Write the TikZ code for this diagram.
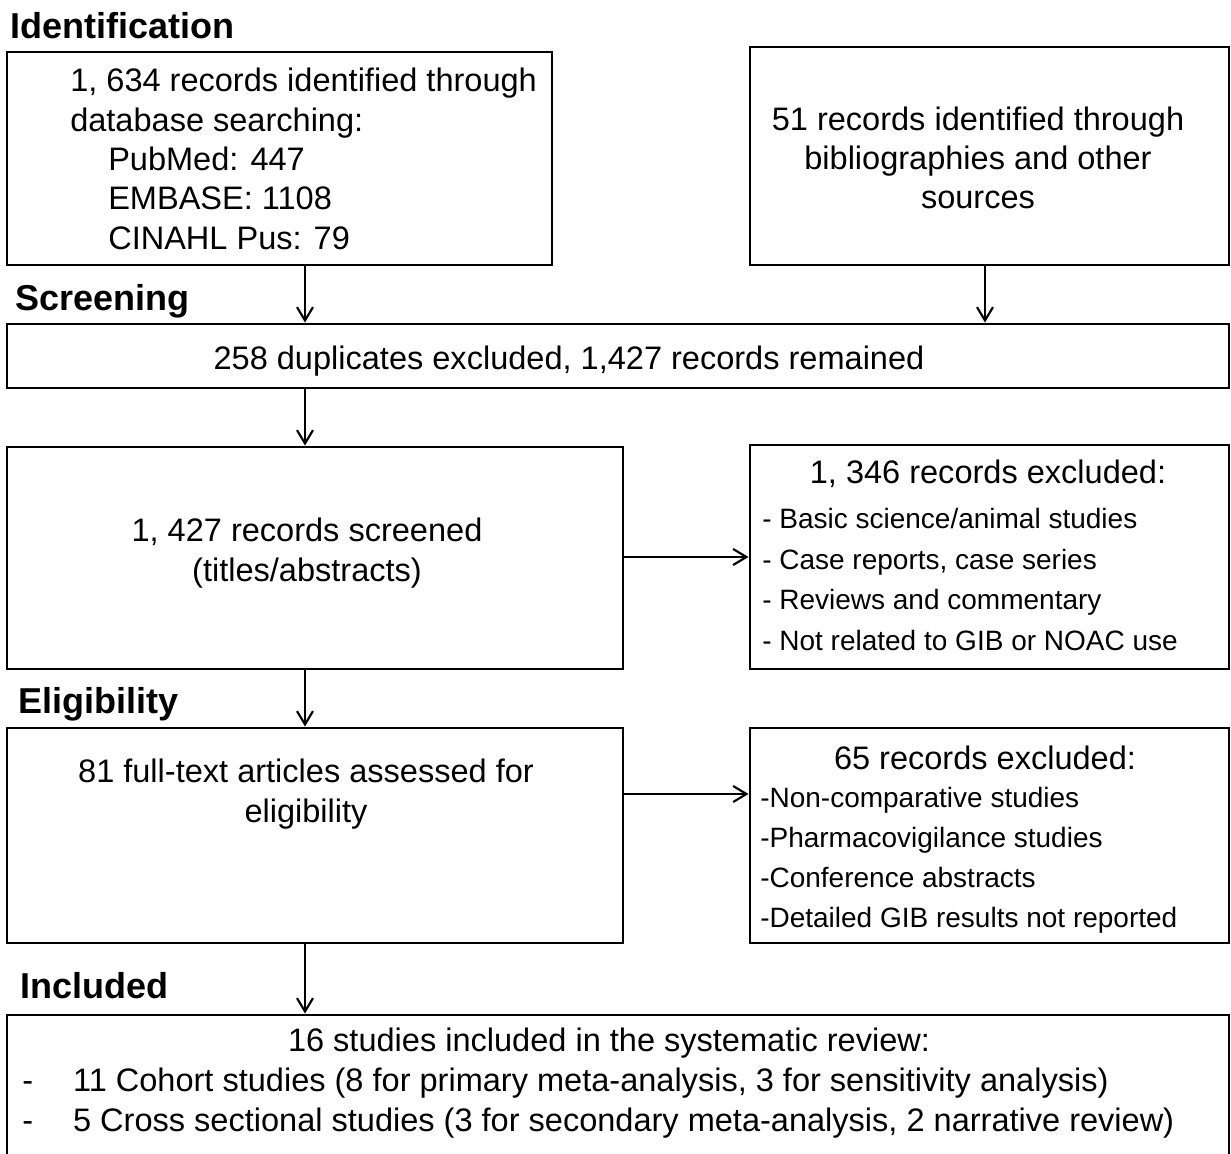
\documentclass[tikz,border=0pt]{standalone}
\usepackage{fontspec}
\setmainfont{Liberation Sans}
\usetikzlibrary{positioning, fit, arrows.meta}
\tikzset{
	x=0.75pt, y=-0.75pt,
	box/.style={draw, line width=2.2pt, inner sep=0pt},
	txt/.style={font=\fontsize{24.4}{29.5}\selectfont, inner sep=0pt, align=center},
	lst/.style={txt, align=left, anchor=west},
	stage/.style={font=\fontsize{27}{30}\selectfont\bfseries, inner sep=0pt, anchor=west},
	link/.style={line width=1.6pt, -{Straight Barb[length=10pt, width=12pt, line width=1.6pt]}}}

\begin{document}
\begin{tikzpicture}
		\useasboundingbox (0,0) rectangle (1231,1153);
		\coordinate (col) at (305,0);
		\coordinate (r1) at (0,557);
		\coordinate (r2) at (0,794);
		
		% boxes
		\node[box, fit={(7,52) (552,265)}] (b1) {};
		\node[box, fit={(750,47) (1229,265)}] (b2) {};
		\node[box, fit={(7,324) (1229,388)}] (b3) {};
		\node[box, fit={(7,447) (623,669)}] (b4) {};
		\node[box, fit={(750,445) (1229,669)}] (b5) {};
		\node[box, fit={(7,728) (623,943)}] (b6) {};
		\node[box, fit={(750,728) (1229,943)}] (b7) {};
		\node[box, fit={(7,1015) (1229,1175)}] (b8) {};
		
		% stage labels
		\node[stage] (sid) at (10,26) {Identification};
		\node[stage] (ssc) at (15,301) {Screening};
		\node[stage] (sel) at (18,704) {Eligibility};
		\node[stage] (sin) at (20,986) {Included};
		
		% texts
		\node[lst, anchor=north west] (t1) at (70,68) {1, 634 records identified through\\database searching:\\\hspace*{28.5pt}PubMed: 447\\\hspace*{28.5pt}EMBASE: 1108\\\hspace*{28.5pt}CINAHL Pus: 79};
		\node[txt] (t2) at (978,158) {51 records identified through\\bibliographies and other\\sources};
		\node[txt] (t3) at (569,361) {258 duplicates excluded, 1,427 records remained};
		\node[txt] (t4) at (307,553) {1, 427 records screened\\(titles/abstracts)};
		\node[txt] (t5) at (988,474) {1, 346 records excluded:};
		\node[lst, anchor=north west, font=\fontsize{21}{30.5}\selectfont] (l5) at (762,508) {- Basic science/animal  studies\\- Case reports, case series\\- Reviews and commentary\\- Not related to GIB  or NOAC use};
		\node[txt] (t6) at (306,794) {81 full-text articles assessed for\\eligibility};
		\node[txt] (t7) at (985,758) {65 records excluded:};
		\node[lst, anchor=north west, font=\fontsize{21}{30}\selectfont] (l7) at (760,787) {-Non-comparative  studies\\-Pharmacovigilance  studies\\-Conference  abstracts\\-Detailed GIB  results  not  reported};
		\node[txt] (t8) at (609,1043) {16 studies included in the systematic review:};
		\node[lst, anchor=north west] (l8) at (22,1068) {-\hspace*{30pt}11 Cohort studies (8 for primary meta-analysis, 3 for sensitivity analysis)\\-\hspace*{30pt}5 Cross sectional studies (3 for secondary meta-analysis, 2 narrative  review)};
		
		% connectors
		\draw[link] (b1.south -| col) -- (b3.north -| col);
		\draw[link] (b2.south -| 985,0) -- (b3.north -| 985,0);
		\draw[link] (b3.south -| col) -- (b4.north -| col);
		\draw[link] (b4.east |- r1) -- (b5.west |- r1);
		\draw[link] (b4.south -| col) -- (b6.north -| col);
		\draw[link] (b6.east |- r2) -- (b7.west |- r2);
		\draw[link] (b6.south -| col) -- (b8.north -| col);
	\end{tikzpicture}
\end{document}
